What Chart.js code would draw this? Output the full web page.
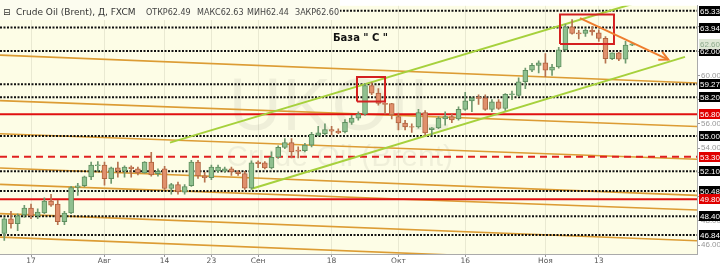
<!DOCTYPE html>
<html><head><meta charset="utf-8">
<script src="https://cdn.jsdelivr.net/npm/chart.js@4/dist/chart.umd.min.js"></script>
<style>html,body{margin:0;padding:0;background:#fff;}canvas{display:block}</style>
</head><body>
<canvas id="c" width="720" height="266"></canvas>
<script>
// ---- DATA ----
const opens  = [46.97,48.18,47.78,48.50,49.07,48.42,48.66,49.63,49.40,47.94,48.66,50.76,50.90,51.64,52.55,52.60,51.48,52.37,52.10,52.45,52.30,51.97,52.85,51.90,52.30,50.68,51.00,50.38,50.92,52.85,51.72,51.56,52.13,52.10,52.30,52.05,51.90,50.70,52.85,52.80,52.37,53.25,54.06,54.46,53.85,53.80,54.25,55.05,55.20,55.53,55.40,55.33,56.13,56.47,56.80,59.16,58.54,57.70,57.68,56.60,56.07,55.78,55.75,56.93,55.53,55.67,56.40,56.60,56.40,57.20,57.90,58.20,58.14,57.20,57.82,57.27,58.40,58.35,59.47,60.42,60.82,61.04,60.42,60.69,62.11,63.99,63.50,63.45,63.72,63.50,63.05,61.38,61.85,61.33,62.49];
const highs  = [48.30,48.80,48.60,49.30,49.40,49.00,49.90,50.20,49.70,48.80,50.85,51.10,51.70,52.85,52.90,52.85,52.45,52.85,52.55,52.55,52.45,52.90,53.65,52.30,52.50,51.10,51.20,51.00,52.99,52.99,52.00,52.60,52.60,52.45,52.45,52.15,52.10,52.95,52.95,52.90,53.70,54.20,54.80,54.80,54.10,54.40,55.30,55.80,56.00,55.80,55.60,56.35,56.70,57.00,59.30,59.40,58.90,57.75,57.70,56.90,56.30,56.00,57.20,57.10,55.70,56.60,57.00,56.80,57.40,58.60,58.20,58.40,58.40,58.00,58.00,58.50,58.70,59.80,60.60,61.00,61.20,61.80,60.90,62.30,64.20,64.60,63.70,63.85,64.00,63.75,63.20,61.85,61.90,62.80,62.63];
const lows   = [46.40,47.40,47.20,48.30,48.20,48.20,48.60,49.20,47.70,47.70,48.60,50.10,50.80,51.40,52.10,50.95,51.10,51.60,51.60,51.60,51.80,51.95,51.70,51.70,50.60,50.20,50.20,50.20,50.84,51.50,51.20,51.40,52.00,52.00,51.75,51.75,50.60,50.60,52.40,52.30,52.30,53.15,53.95,53.20,53.20,53.70,54.10,55.00,55.10,55.10,55.20,55.25,55.95,56.30,56.70,58.40,57.55,56.82,56.40,55.50,55.50,55.30,55.65,55.10,55.10,55.60,55.90,56.10,56.30,57.10,57.00,57.60,57.10,57.00,57.20,57.10,58.00,58.25,58.90,60.30,60.20,59.90,60.00,60.60,62.00,63.40,63.00,63.20,63.30,62.80,61.00,61.30,61.20,61.00,62.44];
const closes = [48.18,47.78,48.42,49.07,48.42,48.74,49.63,49.30,47.94,48.66,50.76,50.90,51.64,52.60,52.62,51.48,52.37,52.10,52.45,52.30,51.97,52.85,51.80,52.10,50.68,51.00,50.40,50.84,52.85,51.72,51.56,52.45,52.45,52.30,52.05,51.90,50.70,52.80,52.72,52.37,53.25,54.06,54.46,53.70,53.75,54.25,55.13,55.27,55.53,55.40,55.25,56.13,56.47,56.80,59.16,58.54,57.68,57.60,56.74,56.07,55.75,55.72,56.93,55.26,55.67,56.47,56.60,56.33,57.20,57.90,58.14,58.10,57.20,57.82,57.27,58.43,58.48,59.47,60.42,60.82,61.04,60.42,60.69,62.11,63.99,63.45,63.42,63.72,63.58,63.05,61.38,61.85,61.33,62.50,62.60];
const tickIdx    = [4,15,24,31,38,49,59,69,81,89];
const tickLabels = ['17','Авг','14','23','Сен','18','Окт','16','Ноя','13'];
const yTicks     = [46,48,50,52,54,56,58,60,62,64];
const levelsBlack     = [65.33,63.94,62.00,59.27,58.20,55.00,52.10,50.48,48.40,46.84];
const levelsRedSolid  = [56.80,49.80];
const levelsRedDashed = [53.30];
const lastPrice = 62.60;
// trend lines: [index, price] endpoints
const orangeLines = [
  [[-0.64,61.67],[103.7,59.37]],
  [[-0.64,57.92],[103.7,55.79]],
  [[-0.64,55.19],[103.7,53.09]],
  [[-0.64,52.37],[103.7,50.11]],
  [[-0.64,51.02],[103.7,48.91]],
  [[-0.64,48.61],[103.7,46.37]],
  [[-0.64,46.67],[103.7,44.40]]
];
const greenLines = [
  [[24.8,54.46],[95.0,66.04]],
  [[37.04,50.65],[101.9,61.52]]
];
const boxes = [
  [52.8,57.84,57.0,59.86],
  [83.19,62.59,91.27,65.01]
];
const arrowLine = [[86.18,64.71],[99.4,61.30]];
const arrowHead = [[97.9,61.28],[99.4,61.30],[98.5,61.94]];
const titleMain = 'Crude Oil (Brent), Д, FXCM';
const titleOHLC = ['ОТКР62.49','МАКС62.63','МИН62.44','ЗАКР62.60'];
const waveLabel = 'База " С "';
const watermark1 = 'UKOIL';
const watermark2 = 'Crude Oil (Brent)';

// ---- CHART ----
const X_MIN = -0.644, X_MAX = 103.7, Y_MIN = 45.28, Y_MAX = 65.73;
const idx = opens.map((_, i) => i);
const up = i => closes[i] >= opens[i];
function seg(pts, color, width, dash, order) {
  return {type:'line', data: pts.map(p => ({x:p[0], y:p[1]})), borderColor: color, borderWidth: width,
    borderDash: dash || [], pointRadius: 0, fill: false, tension: 0, order: order};
}
const datasets = [];
orangeLines.forEach(l => datasets.push(seg(l, '#dc9c34', 1.6, null, 20)));
levelsBlack.forEach(v => datasets.push(seg([[X_MIN,v],[X_MAX,v]], '#111', 2, [2,1.5], 15)));
levelsRedSolid.forEach(v => datasets.push(seg([[X_MIN,v],[X_MAX,v]], '#e01010', 2, null, 15)));
levelsRedDashed.forEach(v => datasets.push(seg([[X_MIN,v],[X_MAX,v]], '#e02020', 2, [7,5], 15)));
greenLines.forEach(l => datasets.push(seg(l, '#a6d13c', 2, null, 12)));
datasets.push({type:'bar', data: idx.map(i => ({x:i, y:[lows[i], highs[i]]})),
  backgroundColor: idx.map(i => up(i) ? '#6f9a6f' : '#b7734f'), barThickness: 1, grouped: false, order: 5});
datasets.push({type:'bar', data: idx.map(i => ({x:i, y:[opens[i], closes[i]]})),
  backgroundColor: idx.map(i => up(i) ? '#8fc08f' : '#e0906c'),
  borderColor: idx.map(i => up(i) ? '#5f8f5f' : '#b06440'),
  borderWidth: 1, borderSkipped: false, barThickness: 5, grouped: false, order: 4});
boxes.forEach(b => datasets.push(seg([[b[0],b[1]],[b[2],b[1]],[b[2],b[3]],[b[0],b[3]],[b[0],b[1]]], '#d42020', 2, null, 2)));
datasets.push(seg(arrowLine, '#ee7d2e', 2, null, 1));
datasets.push(seg(arrowHead, '#ee7d2e', 2, null, 1));

const bgPlugin = {
  id: 'bg',
  beforeDraw(chart) {
    const {ctx, chartArea: a} = chart;
    ctx.save();
    ctx.fillStyle = '#ffffff';
    ctx.fillRect(0, 0, chart.width, chart.height);
    ctx.fillStyle = '#fdfde6';
    ctx.fillRect(a.left, a.top, a.right - a.left, a.bottom - a.top);
    const xs = chart.scales.x, ys = chart.scales.y;
    ctx.fillStyle = 'rgba(0,0,0,0.055)';
    ctx.textAlign = 'center';
    ctx.textBaseline = 'middle';
    ctx.font = '74px "Liberation Sans"';
    ctx.fillText(watermark1, xs.getPixelForValue(50.2), ys.getPixelForValue(57.2));
    ctx.font = '30px "Liberation Sans"';
    ctx.fillText(watermark2, xs.getPixelForValue(50.2), ys.getPixelForValue(53.2));
    ctx.restore();
  }
};
const overlayPlugin = {
  id: 'overlay',
  afterDraw(chart) {
    const {ctx, chartArea: a} = chart;
    const xs = chart.scales.x, ys = chart.scales.y;
    ctx.save();
    ctx.fillStyle = '#fcfcef';
    ctx.fillRect(0, 0, 340, 20);
    ctx.fillStyle = '#333';
    ctx.textBaseline = 'middle';
    ctx.textAlign = 'left';
    ctx.font = '9px "DejaVu Sans"';
    ctx.fillText('⊟', 3, 13);
    ctx.fillText(titleMain, 16, 13);
    ctx.font = '8px "DejaVu Sans"';
    ctx.fillStyle = '#444';
    const ox = [146, 197, 247, 295];
    titleOHLC.forEach((t, i) => ctx.fillText(t, ox[i], 13));
    ctx.font = 'bold 10px "DejaVu Sans"';
    ctx.fillStyle = '#111';
    ctx.fillText(waveLabel, xs.getPixelForValue(49.2), ys.getPixelForValue(63.08));
    ctx.font = '8px "Liberation Sans"';
    const box = (v, bg, fg) => {
      const y = Math.round(ys.getPixelForValue(v));
      ctx.fillStyle = bg;
      ctx.fillRect(a.right + 2, y - 5, chart.width - a.right - 2, 10);
      ctx.fillStyle = fg;
      ctx.fillText(v.toFixed(2), a.right + 3, y + 0.5);
    };
    levelsBlack.forEach(v => box(v, '#000', '#fff'));
    levelsRedSolid.forEach(v => box(v, '#e00000', '#fff'));
    levelsRedDashed.forEach(v => box(v, '#e00000', '#fff'));
    box(lastPrice, '#dfe8d6', '#8aa88a');
    ctx.restore();
  }
};

new Chart(document.getElementById('c'), {
  type: 'bar',
  data: { datasets },
  options: {
    responsive: false, animation: false, devicePixelRatio: 1,
    layout: { padding: 0 },
    plugins: { legend: { display: false }, tooltip: { enabled: false } },
    scales: {
      x: {
        type: 'linear', min: X_MIN, max: X_MAX, offset: false,
        grid: { offset: false, color: 'rgba(110,110,90,0.14)', tickLength: 3, tickColor: '#999' },
        border: { color: '#aaa' },
        afterBuildTicks: s => { s.ticks = tickIdx.map(v => ({ value: v })); },
        afterFit: s => { s.height = 12; },
        ticks: { autoSkip: false, maxRotation: 0, padding: 0, color: '#555',
          font: { family: 'DejaVu Sans', size: 7.5 },
          callback: v => tickLabels[tickIdx.indexOf(v)] }
      },
      y: {
        type: 'linear', position: 'right', min: Y_MIN, max: Y_MAX, beginAtZero: false,
        grid: { drawOnChartArea: false, tickLength: 3, tickColor: '#999' },
        border: { color: '#aaa' },
        afterBuildTicks: s => { s.ticks = yTicks.map(v => ({ value: v })); },
        afterFit: s => { s.width = 23; },
        ticks: { padding: 1, color: '#999', font: { family: 'Liberation Sans', size: 8 },
          callback: v => v.toFixed(2) }
      }
    }
  },
  plugins: [bgPlugin, overlayPlugin]
});
</script>
</body></html>
